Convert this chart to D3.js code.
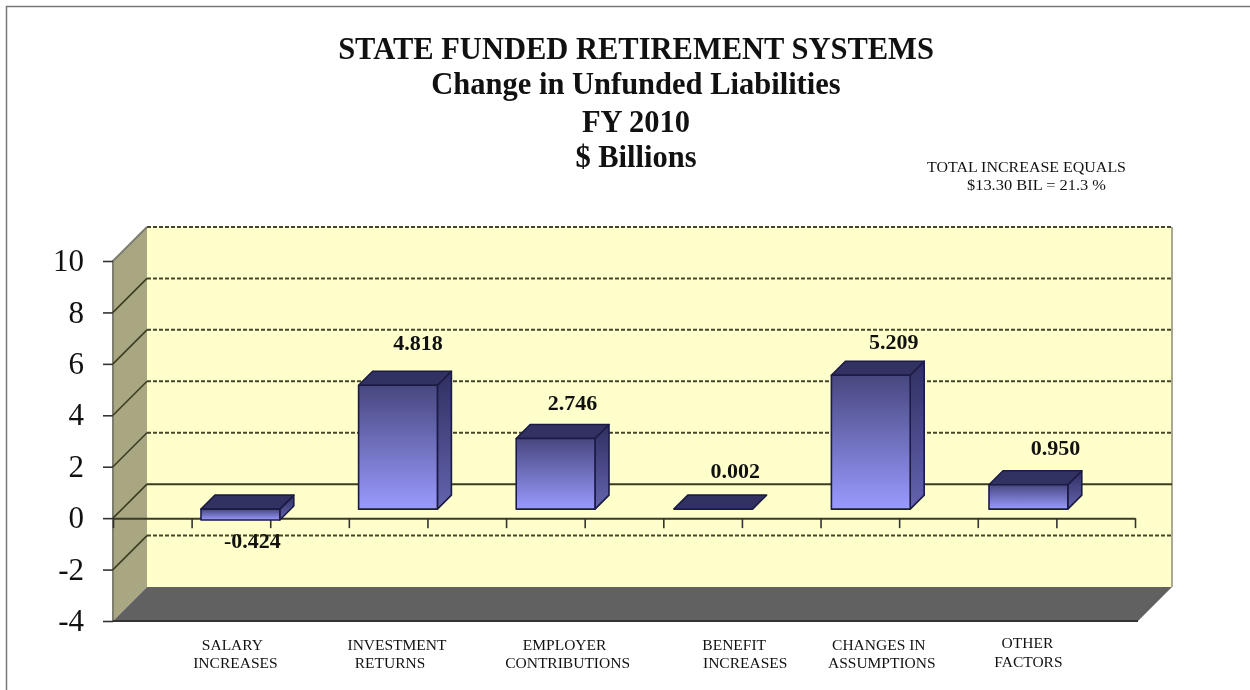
<!DOCTYPE html>
<html><head><meta charset="utf-8">
<script src="https://cdn.jsdelivr.net/npm/d3@7"></script>
<style>
html,body{margin:0;padding:0;background:#fff;overflow:hidden}
svg{display:block;filter:blur(0.45px)}
text{font-family:"Liberation Serif","Times New Roman",serif;fill:#111}
</style></head><body>
<svg id="chart" width="1250" height="690"></svg>
<script>
const categories = ["SALARY INCREASES","INVESTMENT RETURNS","EMPLOYER CONTRIBUTIONS","BENEFIT INCREASES","CHANGES IN ASSUMPTIONS","OTHER FACTORS"];
const labelLine1 = ["SALARY","INVESTMENT","EMPLOYER","BENEFIT","CHANGES IN","OTHER"];
const labelLine2 = ["INCREASES","RETURNS","CONTRIBUTIONS","INCREASES","ASSUMPTIONS","FACTORS"];
const values = [-0.424,4.818,2.746,0.002,5.209,0.950];
const valueText = ["-0.424","4.818","2.746","0.002","5.209","0.950"];
const yTicks = [-4,-2,0,2,4,6,8,10];
const titleLines = ["STATE FUNDED RETIREMENT SYSTEMS","Change in Unfunded Liabilities","FY 2010","$ Billions"];
const noteLines = ["TOTAL INCREASE EQUALS","$13.30 BIL = 21.3 %"];

const svg = d3.select("#chart");
const W = {l:113,r:1138,depth:34,barInset:9,barDepth:14};
const yFront = d3.scaleLinear().domain([-4,10]).range([621,261]);
const yBack = v => yFront(v)-W.depth;
const yBar = v => yFront(v)-W.barInset;
const xBand = d3.scaleBand().domain(categories).range([161.6,1107.2]).paddingInner(0.5).paddingOuter(0.25);
const xTick = d3.scaleLinear().domain([0,13]).range([113,1135]);

const defs = svg.append("defs");
function grad(id,a,b){const g=defs.append("linearGradient").attr("id",id).attr("x1",0).attr("x2",0).attr("y1",0).attr("y2",1);
  g.append("stop").attr("offset",0).attr("stop-color",a);g.append("stop").attr("offset",1).attr("stop-color",b);}
grad("front","#47477f","#9a9aff");
grad("side","#2f2f60","#6464b0");
defs.append("clipPath").attr("id","cut").append("rect").attr("x",340).attr("y",640).attr("width",84.5).attr("height",40);

// page frame
svg.append("path").attr("d","M6.5,690V6.5H1250").attr("fill","none").attr("stroke","#777").attr("stroke-width",1.5);

// title
const tb=[59,94,132,167];
svg.append("g").selectAll("text").data(titleLines).join("text")
  .attr("x",636).attr("y",(d,i)=>tb[i]).attr("text-anchor","middle")
  .attr("font-weight","bold").attr("font-size",30.5).text(d=>d);
const nx=[1026.5,1036.5], ny=[172,190], nl=[199,139];
svg.append("g").selectAll("text").data(noteLines).join("text")
  .attr("x",(d,i)=>nx[i]).attr("y",(d,i)=>ny[i]).attr("text-anchor","middle")
  .attr("font-size",14).attr("textLength",(d,i)=>nl[i]).attr("lengthAdjust","spacingAndGlyphs").text(d=>d);

// back wall, side wall, floor
const L=W.l,B=L+W.depth,R=W.r,RB=R+W.depth;
const yTop=yFront(10),yBot=yFront(-4);
svg.append("rect").attr("x",B).attr("y",yBack(10)).attr("width",RB-B).attr("height",yBack(-4)-yBack(10))
  .attr("fill","#ffffcc");
svg.append("path").attr("d",`M${RB},${yBack(10)}V${yBack(-4)}`).attr("stroke","#a9a98f").attr("stroke-width",2);
svg.append("path").attr("d",`M${L},${yTop}L${B},${yBack(10)}V${yBack(-4)}L${L},${yBot}Z`).attr("fill","#a9a782");
svg.append("path").attr("d",`M${L},${yBot}L${B},${yBack(-4)}H${RB}L${R},${yBot}Z`).attr("fill","#616161");
svg.append("path").attr("d",`M${B},${yBack(10)}L${L},${yTop}V${yBot}`).attr("fill","none").attr("stroke","#7d7d70").attr("stroke-width",2);
svg.append("path").attr("d",`M${L},${yBot}H${R}`).attr("stroke","#333").attr("stroke-width",2);

// gridlines
const gridVals=yTicks.filter(v=>v>-4);
svg.append("g").selectAll("path").data(gridVals).join("path")
  .attr("d",v=>`M${B},${yBack(v)}H${RB}`).attr("fill","none")
  .attr("stroke",v=>v===0?"#3c3c20":"#45452a").attr("stroke-width",2)
  .attr("stroke-dasharray",v=>v===0?null:"4 2");
svg.append("g").selectAll("path").data(gridVals.filter(v=>v<10)).join("path")
  .attr("d",v=>`M${L},${yFront(v)}L${B},${yBack(v)}`).attr("stroke","#3c3c20").attr("stroke-width",1.6);

// axes
const ay=svg.append("g").attr("transform",`translate(${L},0)`)
  .call(d3.axisLeft(yFront).tickValues(yTicks).tickSize(10).tickPadding(19).tickFormat(d=>String(d)));
ay.select(".domain").remove();
ay.selectAll("line").attr("stroke","#333").attr("stroke-width",1.6);
ay.selectAll("text").attr("font-size",31).attr("dy","0.31em").attr("font-family",'"Liberation Serif",serif').style("fill","#111");
const ax=svg.append("g").attr("transform",`translate(0,${yFront(0)})`)
  .call(d3.axisBottom(xTick).tickValues(d3.range(14)).tickSize(10).tickSizeOuter(0).tickFormat(""));
ax.select(".domain").attr("stroke","#3a3a28").attr("stroke-width",2);
ax.selectAll("line").attr("stroke","#333").attr("stroke-width",1.6);

// bars
const bw=xBand.bandwidth(), D=W.barDepth;
const bars=svg.append("g").selectAll("g").data(categories.map((c,i)=>({c,v:values[i]}))).join("g");
const edge={stroke:"#1b1b45","stroke-width":1.6,"stroke-linejoin":"round"};
function st(s){Object.entries(edge).forEach(([k,v])=>s.attr(k,v));return s;}
st(bars.filter(d=>Math.abs(yBar(d.v)-yBar(0))>=1).append("path")
  .attr("d",d=>{const x=xBand(d.c)+bw,a=Math.min(yBar(d.v),yBar(0)),b=Math.max(yBar(d.v),yBar(0));
    return `M${x},${a}L${x+D},${a-D}V${b-D}L${x},${b}Z`;}).attr("fill","url(#side)"));
st(bars.append("path")
  .attr("d",d=>{const x=xBand(d.c),a=Math.min(yBar(d.v),yBar(0));
    return `M${x},${a}L${x+D},${a-D}H${x+D+bw}L${x+bw},${a}Z`;}).attr("fill","#323262"));
st(bars.filter(d=>Math.abs(yBar(d.v)-yBar(0))>=1).append("rect")
  .attr("x",d=>xBand(d.c)).attr("width",bw)
  .attr("y",d=>Math.min(yBar(d.v),yBar(0))).attr("height",d=>Math.abs(yBar(d.v)-yBar(0)))
  .attr("fill","url(#front)"));

// value labels
const valDx=[12,20,17,22,23,27], valDy=[28,-35,-29,-31,-26,-30];
svg.append("g").selectAll("text").data(values).join("text")
  .attr("x",(d,i)=>xBand(categories[i])+bw/2+valDx[i])
  .attr("y",(d,i)=>yBar(d)+valDy[i])
  .attr("text-anchor","middle").attr("font-weight","bold").attr("font-size",22)
  .text((d,i)=>valueText[i]);

// category labels
const dx1=[-8,-1,9,21,8,-1], dx2=[-5,-8,12,32,11,0];
const base1=[650,650,650,650,650,648], base2=[668,668,668,668,668,667];
const lab=svg.append("g").attr("font-size",15.5);
lab.selectAll(".l1").data(labelLine1).join("text").attr("class","l1")
  .attr("x",(d,i)=>xBand(categories[i])+bw/2+dx1[i]).attr("y",(d,i)=>base1[i])
  .attr("text-anchor","middle").attr("font-size",15.5).text(d=>d);
lab.selectAll(".l2").data(labelLine2).join("text").attr("class","l2")
  .attr("x",(d,i)=>xBand(categories[i])+bw/2+dx2[i]).attr("y",(d,i)=>base2[i])
  .attr("text-anchor","middle").attr("font-size",15.5)
  .attr("clip-path",(d,i)=>i===1?"url(#cut)":null).text(d=>d);
</script>
</body></html>
